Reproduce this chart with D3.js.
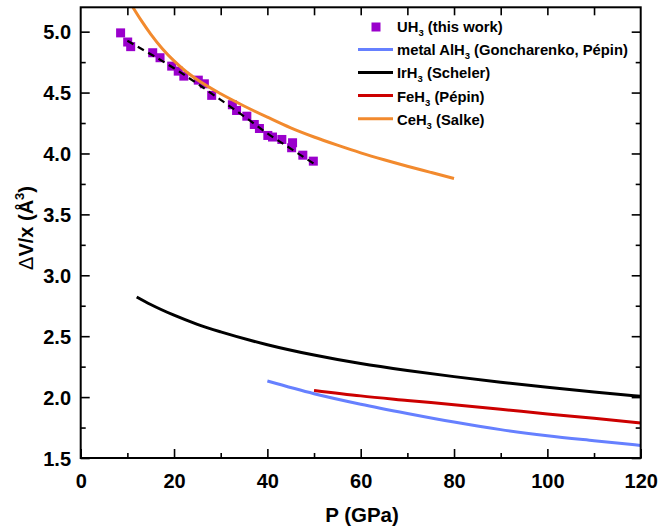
<!DOCTYPE html>
<html>
<head>
<meta charset="utf-8">
<script src="https://cdn.jsdelivr.net/npm/d3@7"></script>
<style>
  html, body { margin: 0; padding: 0; background: #fff; }
  svg text { font-family: "Liberation Sans", Arial, sans-serif; font-weight: bold; fill: #000; }
</style>
</head>
<body>
<svg id="chart" width="659" height="531"></svg>
<script>
// UH3 measurements: pressure (GPa) and volume per hydrogen (Å^3)
const uhP = [8.55, 10.07, 10.71, 15.43, 17.0, 19.5, 20.9, 22.1, 25.2, 26.5, 28.07, 32.5, 33.4, 35.6, 37.2, 38.3, 40.1, 41.1, 43.1, 45.4, 45.2, 47.6, 49.85];
const uhV = [4.99, 4.915, 4.877, 4.827, 4.786, 4.717, 4.676, 4.635, 4.602, 4.572, 4.477, 4.40, 4.353, 4.306, 4.238, 4.205, 4.148, 4.135, 4.115, 4.088, 4.047, 3.986, 3.937];

// Fit through the UH3 data (dashed)
const fitP = [10, 15, 20, 25, 30, 35, 40, 45, 50];
const fitV = [4.925, 4.815, 4.70, 4.573, 4.44, 4.305, 4.165, 4.04, 3.915];

// Reference hydrides
const alP = [40, 50, 60, 70, 80, 90, 100, 110, 120];
const alV = [2.132, 2.028, 1.942, 1.866, 1.795, 1.733, 1.683, 1.642, 1.603];

const irP = [12, 15, 20, 25, 30, 40, 50, 60, 70, 80, 90, 100, 110, 120];
const irV = [2.822, 2.76, 2.672, 2.597, 2.535, 2.43, 2.345, 2.275, 2.218, 2.168, 2.122, 2.08, 2.042, 2.006];

const feP = [50, 60, 70, 80, 90, 100, 110, 120];
const feV = [2.055, 2.01, 1.973, 1.937, 1.90, 1.862, 1.826, 1.787];

const ceP = [11.1, 13, 15, 17.5, 20, 22.5, 25, 30, 35, 40, 45, 50, 55, 60, 65, 70, 75, 80];
const ceV = [5.205, 5.09, 4.98, 4.86, 4.76, 4.675, 4.605, 4.49, 4.39, 4.298, 4.21, 4.135, 4.068, 4.005, 3.948, 3.895, 3.845, 3.795];

// Axis ticks
const xMajor = [0, 20, 40, 60, 80, 100, 120];
const xMinor = [10, 30, 50, 70, 90, 110];
const xTop = [10, 20, 30, 40, 50, 60, 70, 80, 90, 100, 110];
const yMajor = [1.5, 2.0, 2.5, 3.0, 3.5, 4.0, 4.5, 5.0];
const yMinor = [1.75, 2.25, 2.75, 3.25, 3.75, 4.25, 4.75];

// Legend entries
const legendNames = ["UH", "metal AlH", "IrH", "FeH", "CeH"];
const legendTails = [" (this work)", " (Goncharenko, Pépin)", " (Scheler)", " (Pépin)", " (Salke)"];

const colors = { uh: "#9a00cc", al: "#6680ff", ir: "#000000", fe: "#cc0000", ce: "#f28a2e" };

const svg = d3.select("#chart");
const padL = 80.7, padR = 640.7, padT = 7.3, padB = 458;

const x = d3.scaleLinear().domain([0, 120]).range([padL, padR]);
const y = d3.scaleLinear().domain([1.5, 5.2]).range([padB, padT]);

svg.append("defs").append("clipPath").attr("id", "plotClip")
  .append("rect").attr("x", padL).attr("y", padT).attr("width", padR - padL).attr("height", padB - padT);

const plot = svg.append("g").attr("clip-path", "url(#plotClip)");

// UH3 markers
const sq = 9;
plot.selectAll("rect.uh").data(uhP.map((p, i) => [p, uhV[i]])).enter()
  .append("rect").attr("class", "uh")
  .attr("x", d => x(d[0]) - sq / 2).attr("y", d => y(d[1]) - sq / 2)
  .attr("width", sq).attr("height", sq).attr("fill", colors.uh);

const line = d3.line().x(d => x(d[0])).y(d => y(d[1])).curve(d3.curveMonotoneX);
const zip = (a, b) => a.map((v, i) => [v, b[i]]);

plot.append("path").attr("d", line(zip(fitP, fitV)))
  .attr("fill", "none").attr("stroke", "#000").attr("stroke-width", 2.2).attr("stroke-dasharray", "7,5");

[[alP, alV, colors.al], [irP, irV, colors.ir], [feP, feV, colors.fe], [ceP, ceV, colors.ce]].forEach(([p, v, c]) => {
  plot.append("path").attr("d", line(zip(p, v)))
    .attr("fill", "none").attr("stroke", c).attr("stroke-width", 3);
});

// Axes with inward ticks
function styleAxis(g) {
  g.select(".domain").remove();
  g.selectAll(".tick line").attr("stroke", "#000").attr("stroke-width", 1.6);
  g.selectAll(".tick text").attr("font-size", 20).attr("font-weight", "bold")
    .attr("font-family", '"Liberation Sans", Arial, sans-serif').attr("fill", "#000");
}

svg.append("g").attr("transform", `translate(0,${padB})`)
  .call(d3.axisBottom(x).tickValues(xMajor).tickSize(-9).tickFormat(d3.format("d")))
  .call(styleAxis)
  .call(g => g.selectAll(".tick text").attr("dy", 0).attr("y", 30));
svg.append("g").attr("transform", `translate(0,${padB})`)
  .call(d3.axisBottom(x).tickValues(xMinor).tickSize(-5).tickFormat(""))
  .call(styleAxis);
svg.append("g").attr("transform", `translate(0,${padT})`)
  .call(d3.axisTop(x).tickValues(xTop).tickSize(-8).tickFormat(""))
  .call(styleAxis);

svg.append("g").attr("transform", `translate(${padL},0)`)
  .call(d3.axisLeft(y).tickValues(yMajor).tickSize(-9).tickFormat(d3.format(".1f")))
  .call(styleAxis)
  .call(g => g.selectAll(".tick text").attr("x", -9.7).attr("dy", "0.36em"));
svg.append("g").attr("transform", `translate(${padL},0)`)
  .call(d3.axisLeft(y).tickValues(yMinor).tickSize(-5).tickFormat(""))
  .call(styleAxis);
svg.append("g").attr("transform", `translate(${padR},0)`)
  .call(d3.axisRight(y).tickValues(yMajor).tickSize(-9).tickFormat(""))
  .call(styleAxis);
svg.append("g").attr("transform", `translate(${padR},0)`)
  .call(d3.axisRight(y).tickValues(yMinor).tickSize(-5).tickFormat(""))
  .call(styleAxis);

// Frame
svg.append("rect").attr("x", padL).attr("y", padT).attr("width", padR - padL).attr("height", padB - padT)
  .attr("fill", "none").attr("stroke", "#000").attr("stroke-width", 2);

// Axis titles
svg.append("text").attr("x", 362).attr("y", 521.5).attr("text-anchor", "middle")
  .attr("font-size", 20.5).text("P (GPa)");

const yt = svg.append("text").attr("transform", "translate(33,228) rotate(-90)")
  .attr("text-anchor", "middle").attr("font-size", 20);
yt.append("tspan").attr("font-weight", "normal").text("Δ");
yt.append("tspan").text("V/x (Å");
yt.append("tspan").attr("font-size", 13).attr("dy", -9).text("3");
yt.append("tspan").attr("dy", 9).text(")");

// Legend
const legX = 358, legW = 35, textX = 397, rowY0 = 27, rowH = 23.1;
const legendColors = [colors.uh, colors.al, colors.ir, colors.fe, colors.ce];
legendNames.forEach((name, i) => {
  const cy = rowY0 + i * rowH;
  if (i === 0) {
    svg.append("rect").attr("x", 376 - 4.5).attr("y", cy - 4.5).attr("width", 9).attr("height", 9)
      .attr("fill", legendColors[i]);
  } else {
    svg.append("line").attr("x1", legX).attr("x2", legX + legW).attr("y1", cy - 0.7).attr("y2", cy - 0.7)
      .attr("stroke", legendColors[i]).attr("stroke-width", 3);
  }
  const t = svg.append("text").attr("x", textX).attr("y", cy + 5.2).attr("font-size", 14.8);
  t.append("tspan").text(name);
  t.append("tspan").attr("font-size", 9.5).attr("dy", 4).text("3");
  t.append("tspan").attr("dy", -4).text(legendTails[i]);
});
</script>
</body>
</html>
